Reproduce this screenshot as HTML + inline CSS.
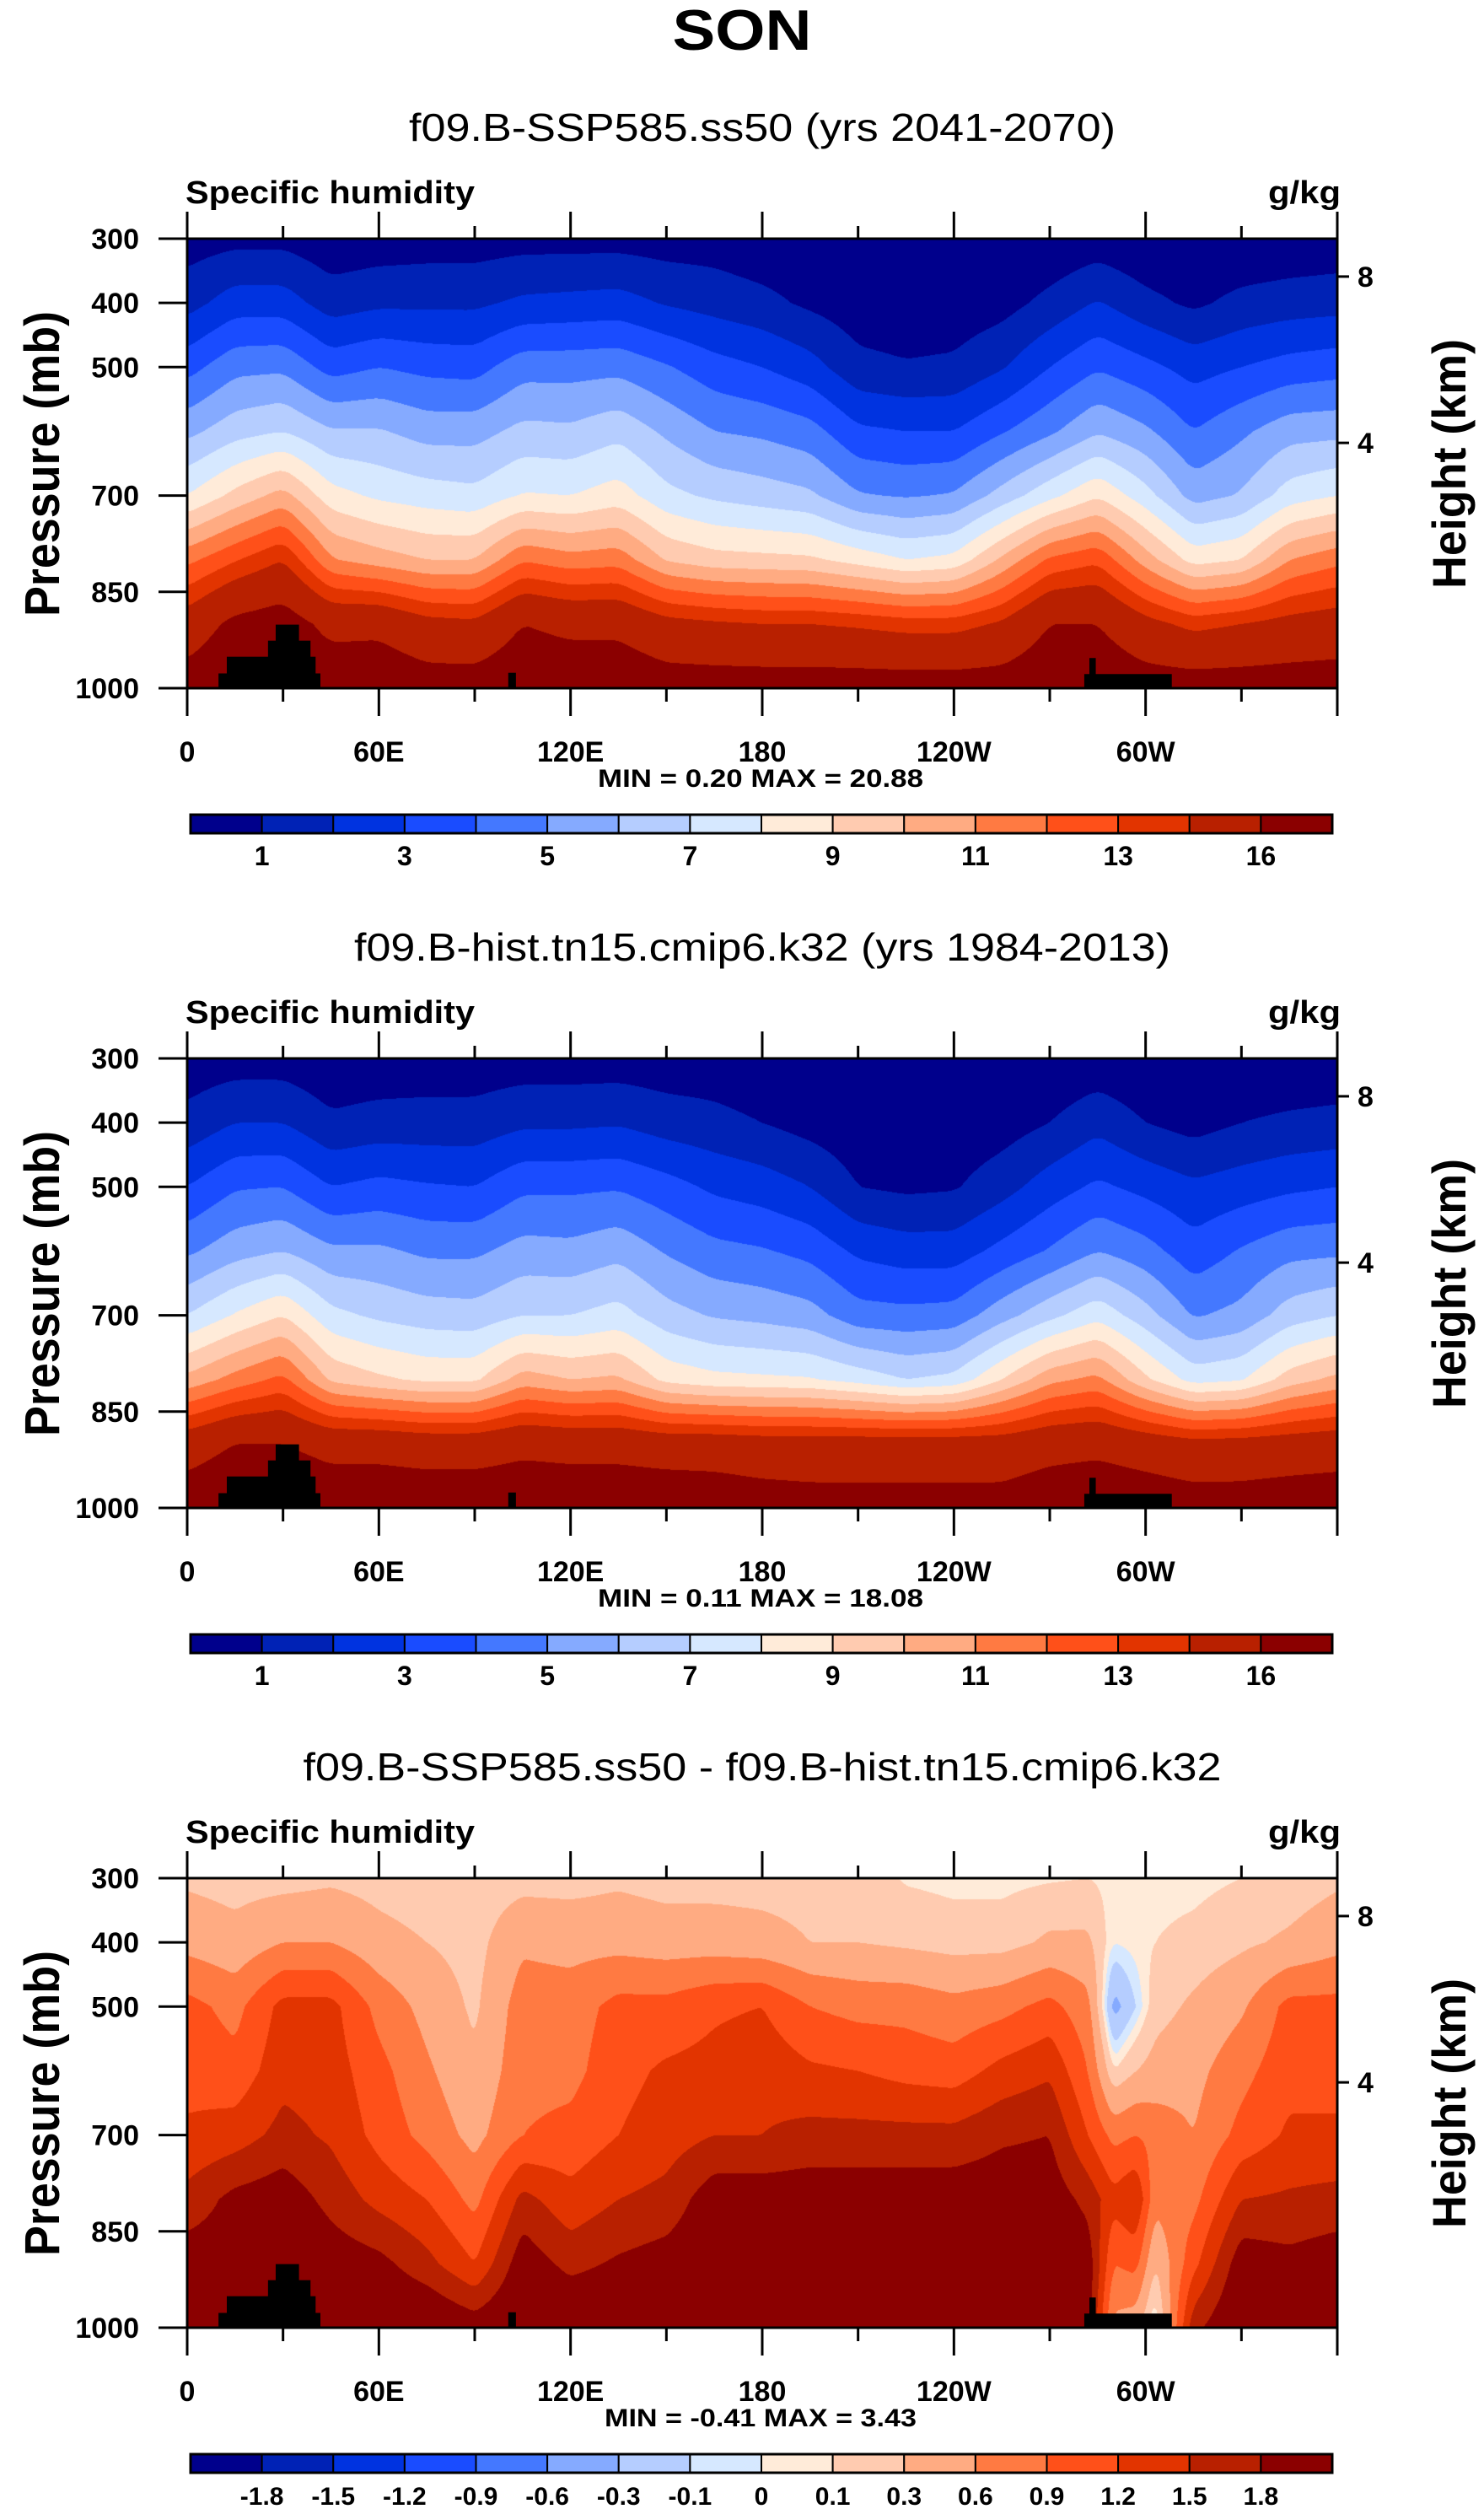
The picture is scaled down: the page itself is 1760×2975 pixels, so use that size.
<!DOCTYPE html>
<html><head><meta charset="utf-8"><title>SON specific humidity</title>
<style>
html,body{margin:0;padding:0;background:#fff;}
#page{position:relative;width:1760px;height:2975px;overflow:hidden;background:#fff;}
canvas{position:absolute;}
svg{position:absolute;left:0;top:0;}
</style></head>
<body>
<div id="page">
<canvas id="cv0" width="1364" height="533" style="left:222px;top:283px"></canvas>
<canvas id="cv1" width="1364" height="533" style="left:222px;top:1255px"></canvas>
<canvas id="cv2" width="1364" height="533" style="left:222px;top:2227px"></canvas>
<svg id="ov" width="1760" height="2975" xmlns="http://www.w3.org/2000/svg"></svg>
</div>
<script>
// ---------- data ----------
const pLevels = [300,400,500,600,700,800,900,1000];
const lonsQ = [0,15,30,45,60,75,90,105,120,135,150,165,180,195,210,225,240,255,270,285,300,315,330,345,360];
const qSSP = [
[0.5,1.6,3.6,5.7,8.0,11.7,14.8,17],
[0.7,2.5,4.7,6.6,9.3,12.9,16.5,18],
[0.7,2.5,4.8,7.0,10.4,14,17,18],
[0.3,1.5,3.6,6.1,8.4,11.1,15.4,17.5],
[0.4,1.8,4.0,6.1,7.8,10.5,15.5,17.5],
[0.5,1.8,3.7,5.6,7.5,10.0,14.5,17],
[0.5,1.8,3.6,5.6,7.3,10.0,14.3,17],
[0.6,2.2,4.6,6.3,8.1,11.9,16,17.5],
[0.6,2.3,4.6,6.2,8.0,11.4,15.5,17.5],
[0.6,2.4,4.7,6.7,8.5,11.6,15.5,17.5],
[0.5,1.9,4.1,5.8,7.3,9.9,14.5,17],
[0.5,1.6,3.4,5.0,6.8,9.4,14.2,17],
[0.25,1.3,3.0,4.8,6.5,9.3,14,17],
[0.2,0.8,2.4,4.4,6.2,9.2,14,17],
[0.1,0.4,1.3,3.2,5.1,8.6,13.8,17],
[0.1,0.3,1.1,3.0,4.9,8.0,13.5,17],
[0.1,0.35,1.2,3.0,5.1,8.3,13.5,17],
[0.1,0.6,1.9,3.9,6.4,10.2,14.2,17],
[0.1,1.3,3.0,4.8,7.7,12.2,16,17.5],
[0.4,2.1,3.9,5.9,8.9,12.8,16,17.5],
[0.1,1.3,3.3,5.2,7.4,10.5,14.5,17],
[0.1,0.8,2.6,4.0,5.6,8.6,13.6,17],
[0.1,1.3,3.0,4.8,6.1,9.0,14,17],
[0.2,1.5,3.4,5.6,7.5,11,14.5,17],
[0.3,1.6,3.6,5.7,8.0,11.7,14.8,17]
];
const qHist = [
[0.4,1.3,3.0,4.8,7.0,10.3,15.0,17.3],
[0.5,2.0,3.9,5.6,8.1,11.4,16.0,18],
[0.5,2.0,4.0,6.0,9.0,12.3,16.0,18],
[0.2,1.2,3.0,5.2,7.3,9.8,15.3,17.5],
[0.3,1.4,3.3,5.2,6.8,9.2,15.3,17.5],
[0.4,1.4,3.1,4.8,6.5,8.8,15.0,17.5],
[0.4,1.4,3.0,4.8,6.4,8.8,15.0,17.5],
[0.45,1.8,3.8,5.4,7.0,10.5,15.5,17.5],
[0.45,1.8,3.8,5.3,7.0,10.0,15.3,17.5],
[0.45,1.9,3.9,5.7,7.4,10.2,15.3,17.5],
[0.4,1.5,3.4,4.9,6.4,8.7,15.0,17.5],
[0.4,1.3,2.8,4.3,5.9,8.3,15.0,17.3],
[0.2,1.0,2.5,4.1,5.7,8.2,14.8,17],
[0.15,0.6,2.0,3.7,5.4,8.1,14.8,16.8],
[0.1,0.3,1.0,2.8,4.4,7.6,14.8,16.8],
[0.1,0.2,0.8,2.5,4.3,7.0,14.8,16.8],
[0.1,0.25,0.9,2.5,4.4,7.3,14.8,16.8],
[0.1,0.5,1.6,3.3,5.6,9.0,14.8,16.8],
[0.1,1.0,2.5,4.1,6.7,10.7,15.3,17.3],
[0.3,1.7,3.2,5.0,7.7,11.3,15.5,17.5],
[0.1,1.0,2.7,4.4,6.4,9.2,15.0,17.3],
[0.1,0.6,2.2,3.4,4.9,7.6,14.5,17],
[0.1,1.0,2.5,4.1,5.3,7.9,14.6,17],
[0.15,1.2,2.8,4.7,6.5,9.5,14.8,17.2],
[0.25,1.3,3.0,4.8,7.0,10.3,15.0,17.3]
];
const lonsD = [0,15,30,45,60,75,90,105,120,135,150,165,180,195,210,225,240,255,270,282,290,297,303,315,330,345,360];
const qDiff = [
[0.25,0.5,1.0,1.1,1.25,1.6,2.0,2.2],
[0.2,0.4,0.8,1.0,1.35,1.9,2.0,2.2],
[0.2,0.6,1.3,1.4,1.6,2.0,2.2,2.2],
[0.25,0.6,1.3,1.35,1.45,1.7,2.0,2.2],
[0.2,0.4,0.8,1.0,1.1,1.4,1.9,2.2],
[0.15,0.3,0.5,0.65,0.8,1.2,1.6,2.2],
[0.15,0.2,0.25,0.35,0.5,0.8,1.2,2.0],
[0.2,0.55,0.75,0.8,0.9,1.6,2.0,2.2],
[0.2,0.5,0.75,0.8,1.0,1.3,1.7,2.2],
[0.25,0.5,1.0,1.1,1.2,1.5,1.85,2.2],
[0.2,0.45,1.0,1.25,1.35,1.6,1.95,2.2],
[0.2,0.45,1.15,1.3,1.5,2.0,2.1,2.2],
[0.2,0.4,1.2,1.4,1.5,2.0,2.1,2.2],
[0.2,0.3,0.9,1.25,1.6,2.0,2.1,2.2],
[0.2,0.3,0.8,1.2,1.6,2.0,2.1,2.2],
[0.08,0.25,0.8,1.1,1.6,2.0,2.1,2.2],
[0.05,0.2,0.7,1.05,1.6,2.0,2.1,2.2],
[0.05,0.2,0.8,1.3,1.75,2.0,2.1,2.2],
[0.08,0.35,1.0,1.45,1.8,2.0,2.2,2.2],
[0.1,0.35,0.7,0.9,1.2,1.7,2.0,2.0],
[0.05,0.0,-0.4,0.1,0.8,1.3,0.9,0.5],
[0.05,0.05,-0.1,0.3,0.9,1.5,1.0,0.4],
[0.05,0.1,0.2,0.4,0.8,0.7,0.3,-0.1],
[0.05,0.15,0.35,0.5,0.6,0.8,1.1,1.7],
[0.1,0.25,0.55,0.8,1.0,1.5,2.0,2.2],
[0.15,0.35,1.0,1.1,1.25,1.55,1.9,2.2],
[0.25,0.5,1.0,1.1,1.25,1.6,2.0,2.2]
];
const levelsQ = [1,2,3,4,5,6,7,8,9,10,11,12,13,14,16];
const labelsQ = ['1','3','5','7','9','11','13','16'];
const levelsD = [-1.8,-1.5,-1.2,-0.9,-0.6,-0.3,-0.1,0,0.1,0.3,0.6,0.9,1.2,1.5,1.8];
const labelsD = ['-1.8','-1.5','-1.2','-0.9','-0.6','-0.3','-0.1','0','0.1','0.3','0.6','0.9','1.2','1.5','1.8'];
const palette = ['#00008c','#0022b5','#0033e0','#1a4cff','#4478ff','#85aaff','#b5cdff','#d6e8ff','#ffebd9','#ffcbb0','#ffab82','#ff7a42','#ff5019','#e23400','#b82000','#8b0000'];
const topoStart = [9.8,12.4,25.3,27.7,100.5,280.8,282.4];
const topoEnd   = [41.7,40.2,38.6,35,102.9,308.2,284.4];
const topoTop   = [977,951,926,901,976,978,953];
const xTickLons = [0,60,120,180,240,300];
const xTickLabels = ['0','60E','120E','180','120W','60W'];
const yTicks = [300,400,500,700,850,1000];
const heightTicks = ['8','4'];
const heightTickP = [359,618];
const panelTitles = ['f09.B-SSP585.ss50 (yrs 2041-2070)','f09.B-hist.tn15.cmip6.k32 (yrs 1984-2013)','f09.B-SSP585.ss50 - f09.B-hist.tn15.cmip6.k32'];
const panelTitleLens = [838,968,1089];
const minMaxText = ['MIN =   0.20  MAX =  20.88','MIN =   0.11  MAX =  18.08','MIN =  -0.41  MAX =   3.43'];

// ---------- geometry ----------
const PL=222, PW=1364, PH=533, PT=283, DY=972;
function xOf(lon){return PL + lon/360*PW;}
function yOf(p,top){return top + (p-300)/700*PH;}

// ---------- field rendering ----------
function hexRGB(h){return [parseInt(h.slice(1,3),16),parseInt(h.slice(3,5),16),parseInt(h.slice(5,7),16)];}
const palRGB = palette.map(hexRGB);
function drawField(canvasId, lons, grid, levels, smooth){
  const cv=document.getElementById(canvasId), ctx=cv.getContext('2d');
  const W=cv.width,H=cv.height,nk=pLevels.length;
  const cols=[];
  let j=0;
  for(let x=0;x<W;x++){
    const lon=(x+0.5)/W*360;
    while(j<lons.length-2 && lon>lons[j+1]) j++;
    const t=(lon-lons[j])/(lons[j+1]-lons[j]);
    const c=[];
    for(let k=0;k<nk;k++) c.push(grid[j][k]*(1-t)+grid[j+1][k]*t);
    cols.push(c);
  }
  const sm=[];
  for(let x=0;x<W;x++){
    const c=new Array(nk).fill(0); let n=0;
    for(let d=-smooth; d<=smooth; d++){
      const xx=Math.min(W-1,Math.max(0,x+d));
      for(let k=0;k<nk;k++) c[k]+=cols[xx][k];
      n++;
    }
    for(let k=0;k<nk;k++) c[k]/=n;
    sm.push(c);
  }
  const img=ctx.createImageData(W,H), d=img.data;
  for(let y=0;y<H;y++){
    const p=300+(y+0.5)/H*700;
    let f=(p-300)/100; let i=Math.min(nk-2,Math.floor(f)); let t=f-i;
    for(let x=0;x<W;x++){
      const v=sm[x][i]*(1-t)+sm[x][i+1]*t;
      let idx=0; while(idx<levels.length && v>=levels[idx]) idx++;
      const c=palRGB[idx], o=(y*W+x)*4;
      d[o]=c[0];d[o+1]=c[1];d[o+2]=c[2];d[o+3]=255;
    }
  }
  ctx.putImageData(img,0,0);
}
drawField('cv0', lonsQ, qSSP, levelsQ, 10);
drawField('cv1', lonsQ, qHist, levelsQ, 10);
drawField('cv2', lonsD, qDiff, levelsD, 5);

// ---------- overlay ----------
const NS='http://www.w3.org/2000/svg';
const ov=document.getElementById('ov');
function mk(tag,parent){const e=document.createElementNS(NS,tag);parent.appendChild(e);return e;}
function setA(e,o){for(const k in o) e.setAttribute(k,o[k]);}
function text(parent,x,y,s,size,anchor,weight,len){
  const t=mk('text',parent);
  setA(t,{x:x,y:y,'font-size':size,'text-anchor':anchor,'font-weight':weight,'font-family':'Liberation Sans, Arial, sans-serif',fill:'#000'});
  if(len){t.setAttribute('textLength',len);t.setAttribute('lengthAdjust','spacingAndGlyphs');}
  t.textContent=s; return t;
}
function line(parent,x1,y1,x2,y2,w){const l=mk('line',parent);setA(l,{x1:x1,y1:y1,x2:x2,y2:y2,stroke:'#000','stroke-width':w});return l;}

const mainTitle=text(ov,880,59,'SON',68,'middle','bold',165);



for(let n=0;n<3;n++){
  const dy=n*DY, top=PT+dy, bot=top+PH;
  const g=mk('g',ov);
  
  

  const st=text(g,904,167+dy,panelTitles[n],46,'middle','normal',panelTitleLens[n]);
  
  
  const vl=text(g,220,241+dy,'Specific humidity',38,'start','bold',343);
  
  
  const ul=text(g,1590,241+dy,'g/kg',38,'end','bold',86);
  
  

  // topography
  for(let i=0;i<topoStart.length;i++){
    const r=mk('rect',g);
    setA(r,{x:xOf(topoStart[i]),y:yOf(topoTop[i],top),width:xOf(topoEnd[i])-xOf(topoStart[i]),height:yOf(1000,top)-yOf(topoTop[i],top),fill:'#000'});
    
    
  }

  // frame
  const fr=mk('rect',g);
  setA(fr,{x:PL,y:top,width:PW,height:PH,fill:'none',stroke:'#000','stroke-width':3});
  
  

  // x ticks
  for(let lon=0;lon<=360;lon+=30){
    const major=(lon%60===0), x=xOf(lon);
    const t1=line(g,x,top,x,top-(major?32:15),3);
    
    
    const t2=line(g,x,bot,x,bot+(major?33:16),3);
    
    
  }
  for(let i=0;i<xTickLons.length;i++){
    const xl=text(g,xOf(xTickLons[i]),903+dy,xTickLabels[i],34,'middle','bold');
    
    
  }
  // y ticks
  for(let i=0;i<yTicks.length;i++){
    const y=yOf(yTicks[i],top);
    const tl=line(g,188,y,PL,y,3);
    
    
    const yl=text(g,165,y+12,String(yTicks[i]),34,'end','bold');
    
    
  }
  // height axis
  for(let i=0;i<heightTicks.length;i++){
    const y=yOf(heightTickP[i],top);
    const hl=line(g,PL+PW,y,PL+PW+14,y,3);
    
    
    const ht=text(g,1610,y+12,heightTicks[i],34,'start','bold');
    
    
  }
  const yt=text(g,70,550+dy,'Pressure (mb)',58,'middle','bold',362);
  yt.setAttribute('transform','rotate(-90,70,'+(550+dy)+')');
  
  
  const ht2=text(g,1738,550+dy,'Height (km)',56,'middle','bold',296);
  ht2.setAttribute('transform','rotate(-90,1738,'+(550+dy)+')');
  
  

  const mm=text(g,902,933+dy,minMaxText[n],30,'middle','bold',n===2?370:386);
  
  

  // colorbar
  const cbL=226, cbW=1354, cbT=966+dy, cbH=22, nb=16, bw=cbW/nb;
  for(let i=0;i<nb;i++){
    const b=mk('rect',g);
    setA(b,{x:cbL+i*bw,y:cbT,width:bw,height:cbH,fill:palette[i],stroke:'#000','stroke-width':2});
    
    
  }
  const cbf=mk('rect',g);
  setA(cbf,{x:cbL,y:cbT,width:cbW,height:cbH,fill:'none',stroke:'#000','stroke-width':3});
  
  
  if(n<2){
    for(let i=0;i<labelsQ.length;i++){
      const cl=text(g,cbL+(2*i+1)*bw,1026+dy,labelsQ[i],32,'middle','bold');
      
      
    }
  } else {
    for(let i=0;i<labelsD.length;i++){
      const cl=text(g,cbL+(i+1)*bw,1026+dy,labelsD[i],30,'middle','bold');
      
      
    }
  }
}
</script>
</body></html>
